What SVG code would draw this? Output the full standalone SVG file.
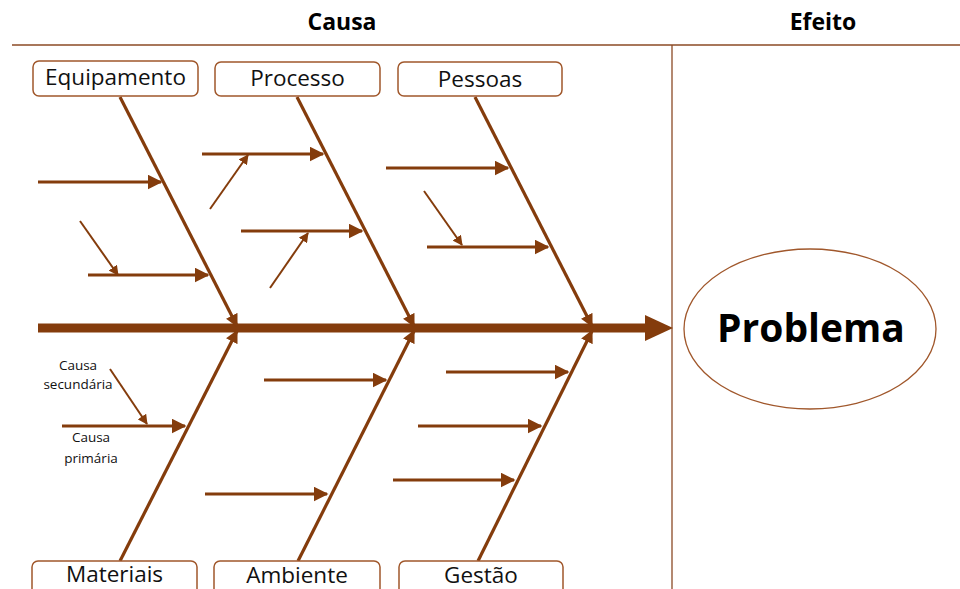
<svg xmlns="http://www.w3.org/2000/svg" width="960" height="589" viewBox="0 0 960 589">
  <defs>
    <marker id="ah" viewBox="0 0 10 10" refX="9" refY="5" markerWidth="4" markerHeight="4" markerUnits="strokeWidth" orient="auto">
      <path d="M0,0 L10,5 L0,10 z" fill="#843C0C"/>
    </marker>
    <marker id="ahs" viewBox="0 0 10 10" refX="9" refY="5" markerWidth="5" markerHeight="5" markerUnits="strokeWidth" orient="auto">
      <path d="M0,0 L10,5 L0,10 z" fill="#843C0C"/>
    </marker>
  </defs>
  <style>
    .hdr { font-family: "Open Sans", "Liberation Sans", sans-serif; font-weight: bold; font-size: 23px; fill: #000; text-anchor: middle; }
    .frame { stroke: #8B4A25; stroke-width: 1.3; fill: none; }
    .box rect { fill: #fff; stroke: #A0572B; stroke-width: 1.5; }
    .box text { font-family: "Open Sans", "Liberation Sans", sans-serif; font-size: 22.5px; fill: #111; text-anchor: middle; }
    .bone { stroke: #843C0C; stroke-width: 3.2; fill: none; marker-end: url(#ah); }
    .cause { stroke: #843C0C; stroke-width: 3; fill: none; marker-end: url(#ahs); }
    .sub { stroke: #843C0C; stroke-width: 2; fill: none; marker-end: url(#ahs); }
    .spine { stroke: #843C0C; stroke-width: 9; fill: none; }
    .note { font-family: "Open Sans", "Liberation Sans", sans-serif; font-size: 13.5px; fill: #111; text-anchor: middle; }
  </style>

  <!-- headers and frame -->
  <text class="hdr" x="342" y="30">Causa</text>
  <text class="hdr" x="823" y="30">Efeito</text>
  <line class="frame" x1="12" y1="45" x2="960" y2="45"/>
  <line class="frame" x1="672" y1="45" x2="672" y2="589"/>

  <!-- connectors -->
  <g id="connectors">
    <!-- spine -->
    <line class="spine" x1="38" y1="328" x2="648" y2="328"/>
    <path d="M645,315 L673,328 L645,341 z" fill="#843C0C"/>

    <!-- main bones, top -->
    <line class="bone" x1="120" y1="97" x2="237" y2="326"/>
    <line class="bone" x1="297" y1="97" x2="414" y2="326"/>
    <line class="bone" x1="475" y1="97" x2="592" y2="326"/>
    <!-- main bones, bottom -->
    <line class="bone" x1="120" y1="561" x2="237" y2="331"/>
    <line class="bone" x1="298" y1="561" x2="414" y2="331"/>
    <line class="bone" x1="478" y1="561" x2="592" y2="331"/>

    <!-- primary causes -->
    <line class="cause" x1="38" y1="182" x2="161" y2="182"/>
    <line class="cause" x1="88" y1="275" x2="208" y2="275"/>
    <line class="cause" x1="202" y1="154" x2="323" y2="154"/>
    <line class="cause" x1="241" y1="231" x2="362" y2="231"/>
    <line class="cause" x1="386" y1="168" x2="508" y2="168"/>
    <line class="cause" x1="427" y1="247" x2="548" y2="247"/>
    <line class="cause" x1="62" y1="426" x2="185" y2="426"/>
    <line class="cause" x1="264" y1="380" x2="386" y2="380"/>
    <line class="cause" x1="205" y1="494" x2="327" y2="494"/>
    <line class="cause" x1="446" y1="372" x2="568" y2="372"/>
    <line class="cause" x1="418" y1="426" x2="541" y2="426"/>
    <line class="cause" x1="393" y1="480" x2="514" y2="480"/>

    <!-- secondary causes -->
    <line class="sub" x1="80" y1="221" x2="118" y2="275"/>
    <line class="sub" x1="210" y1="209" x2="248" y2="155"/>
    <line class="sub" x1="270" y1="288" x2="308" y2="233"/>
    <line class="sub" x1="424" y1="191" x2="462" y2="245"/>
    <line class="sub" x1="110" y1="369" x2="147" y2="424"/>
  </g>

  <!-- category nodes -->
  <g id="equipamento" class="box">
    <rect x="33" y="61" width="165" height="35" rx="6"/>
    <text x="115.5" y="85">Equipamento</text>
  </g>
  <g id="processo" class="box">
    <rect x="215" y="62" width="165" height="34" rx="6"/>
    <text x="297.5" y="86">Processo</text>
  </g>
  <g id="pessoas" class="box">
    <rect x="398" y="62" width="164" height="34" rx="6"/>
    <text x="480" y="87">Pessoas</text>
  </g>
  <g id="materiais" class="box">
    <rect x="32" y="561" width="165" height="40" rx="6"/>
    <text x="114.5" y="582">Materiais</text>
  </g>
  <g id="ambiente" class="box">
    <rect x="214" y="561" width="166" height="40" rx="6"/>
    <text x="297" y="583">Ambiente</text>
  </g>
  <g id="gestao" class="box">
    <rect x="399" y="561" width="164" height="40" rx="6"/>
    <text x="481" y="583">Gestão</text>
  </g>

  <!-- legend labels -->
  <g id="legend">
    <text class="note" x="78" y="370">Causa</text>
    <text class="note" x="78" y="389">secundária</text>
    <text class="note" x="91" y="442">Causa</text>
    <text class="note" x="91" y="463">primária</text>
  </g>

  <!-- effect -->
  <g id="problema">
    <ellipse cx="810" cy="329" rx="126" ry="80" fill="#fff" stroke="#A0572B" stroke-width="1.3"/>
    <text x="811" y="342" font-family="'Open Sans', 'Liberation Sans', sans-serif" font-weight="bold" font-size="39" text-anchor="middle" fill="#000">Problema</text>
  </g>
</svg>
